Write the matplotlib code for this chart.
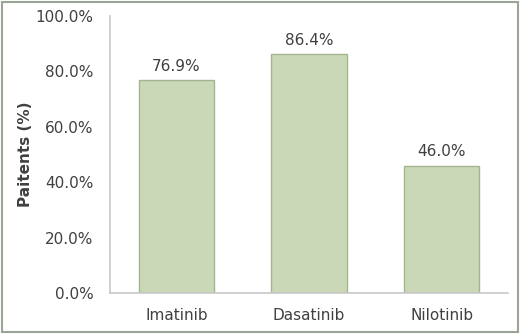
import matplotlib.pyplot as plt
from matplotlib.patches import Rectangle

drugs = ["Imatinib", "Dasatinib", "Nilotinib"]
patients_pct = [76.9, 86.4, 46.0]
y_ticks = [0, 20, 40, 60, 80, 100]

plt.rcParams['font.family'] = ['DejaVu Sans']

fig = plt.figure(figsize=(5.2, 3.34), dpi=100)
ax = fig.add_axes([110 / 520, 1 - 293 / 334, 398 / 520, 277 / 334])

text_col = '#404040'
fs = 11
ax.bar(drugs, patients_pct, width=0.57, color='#cad8b8', edgecolor='#a3b58f', linewidth=1)

for i, v in enumerate(patients_pct):
    ax.text(i, v + 2.2, f"{v:.1f}%", ha='center', va='bottom', fontsize=fs, color=text_col)

ax.set_xlim(-0.5, 2.5)
ax.set_ylim(0, 100)
ax.set_yticks(y_ticks)
ax.set_yticklabels([f"{t:.1f}%" for t in y_ticks], fontsize=fs, color=text_col)
ax.tick_params(axis='x', labelsize=fs, labelcolor=text_col, length=0, pad=11)
ax.tick_params(axis='y', length=0, pad=12)

for side in ['top', 'right']:
    ax.spines[side].set_visible(False)
for side in ['left', 'bottom']:
    ax.spines[side].set_color('#c8c8c8')
    ax.spines[side].set_linewidth(1.2)

ax.set_ylabel("Paitents (%)", fontsize=fs, fontweight='bold', color=text_col, labelpad=2)

# thin frame around the whole picture
fig.patches.append(Rectangle((0.004, 0.006), 0.992, 0.988, transform=fig.transFigure,
                             fill=False, edgecolor='#9aa596', linewidth=1.5))

fig.savefig("out.png", dpi=100)
